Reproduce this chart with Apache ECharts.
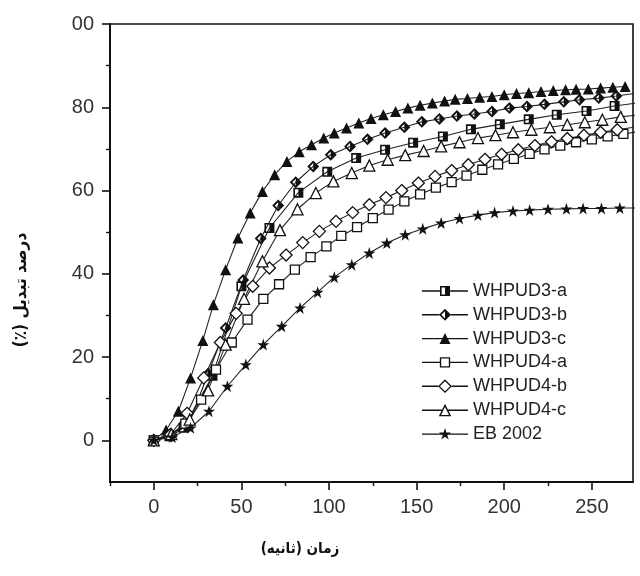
<!DOCTYPE html>
<html>
<head>
<meta charset="utf-8">
<script src="https://cdn.jsdelivr.net/npm/echarts@6/dist/echarts.min.js"></script>
<style>html,body{margin:0;padding:0;background:#fff}#c{width:640px;height:576px}</style>
</head>
<body>
<div id="c"></div>
<script>
// ---- data ----
const seriesNames = ['WHPUD3-a','WHPUD3-b','WHPUD3-c','WHPUD4-a','WHPUD4-b','WHPUD4-c','EB 2002'];

const t3a = [0,17,33.5,50,66,82.5,99,115.5,132,148,165,181,197.5,214,230,247,263,279];
const v3a = [0,3,15.5,37,51,59.5,64.5,67.8,69.8,71.5,73,74.7,75.9,77.1,78.2,79.1,80.3,81.2];

const t3b = [0,10,20,31,41,51,61,71,81,91,101,112,122,132,143,153,163,173,183,193,203,213,223,234,243,254,264,274];
const v3b = [0,1,4,16,27,38.5,48.5,56.4,62,65.8,68.6,70.6,72.3,73.8,75.2,76.5,77.2,77.9,78.4,79,79.8,80.2,80.7,81.3,81.8,82.2,82.7,83.3];

const t3c = [0,7,14,21,28,34,41,48,55,62,69,76,83,90,97,103,110,117,124,131,138,145,152,159,166,172,179,186,193,200,207,214,221,228,235,241,248,255,262,269];
const v3c = [0,2.5,7,15,24,32.6,41,48.6,54.6,59.8,63.8,67,69.3,71,72.6,73.8,75,76.2,77.3,78.2,79,79.8,80.5,81,81.5,81.9,82.1,82.4,82.6,83,83.3,83.5,83.8,84,84.2,84.3,84.4,84.6,84.8,85];

const t4a = [0,9,18,27,35.5,44.5,53.5,62.5,71.5,80.5,89.5,98.5,107,116,125,134,143,152,161,170,178.5,187.5,196.5,205.5,214.5,223,232,241,250,259,268,277];
const v4a = [0,1,4,9.8,17,23.5,29,34,37.5,41,44,46.6,49.1,51.2,53.4,55.4,57.4,59.1,60.7,62,63.6,65,66.3,67.6,68.8,69.9,70.8,71.6,72.3,73,73.6,74.2];

const t4b = [0,9.5,19,28.5,38,47,56.5,66,75.5,85,94.5,104,113.5,123,132.5,141.5,151,160.5,170,179.5,189,198.5,208,217.5,227,236,245.5,255,264.5,274];
const v4b = [0,1.4,6.5,15,23.5,30.5,37,41.4,44.5,47.5,50.2,52.6,54.7,56.6,58.3,60,61.8,63.4,64.8,66.2,67.5,68.7,69.8,70.8,71.7,72.5,73.3,74,74.6,75.2];

const t4c = [0,10,20.5,31,41,51.5,62,72,82,92.5,102.5,113,123,133.5,143.5,154,164,174.5,185,195,205,215.5,226,236,246,256,266.5,277];
const v4c = [0,1.5,5,12,23,34,43,50.5,55.5,59.4,62.2,64.2,66,67.4,68.5,69.5,70.6,71.6,72.6,73.3,74,74.6,75.2,75.8,76.4,77,77.7,78.2];

const tEB = [0,10.5,21,31.5,42,52.5,62.5,73,83.5,93.5,103,113,123,133,143.5,153.5,164,174.5,185,194.5,205,214.5,225,235.5,245,255.5,266,275.5];
const vEB = [0,0.8,3,7,13,18.2,23,27.4,31.8,35.6,39.2,42.2,45,47.4,49.4,50.8,52.2,53.3,54.1,54.7,55.1,55.3,55.5,55.6,55.7,55.7,55.8,55.8];

const xTickValues = [0,50,100,150,200,250];
const xTickLabels = ['0','50','100','150','200','250'];
const xMinorTicks = [-25,25,75,125,175,225];
const yTickValues = [0,20,40,60,80,100];
const yTickLabels = ['0','20','40','60','80','00'];
const yMinorTicks = [10,30,50,70,90];

const xTitle = '\u202Bزمان (ثانیه)\u202C';
const yTitle = '\u202Bدرصد تبدیل (٪)\u202C';

// ---- styling ----
const halfSquare = 'path://M0,0 L10,0 L10,10 L0,10 Z M1.6,1.6 L1.6,8.4 L5,8.4 L5,1.6 Z';
const halfDiamond = 'path://M5,0 L10,5 L5,10 L0,5 Z M5,2.2 L2.2,5 L5,7.8 Z';
const star = 'path://M5,0 L6.18,3.62 L10,3.62 L6.91,5.86 L8.09,9.51 L5,7.24 L1.91,9.51 L3.09,5.86 L0,3.62 L3.82,3.62 Z';

// legend icons: line + marker drawn as one path (46 x 15 box)
function seg(a, b) { return 'M' + a + ',6.8 L' + b + ',6.8 L' + b + ',8.2 L' + a + ',8.2 Z '; }
const legendIcons = [
  'path://' + seg(0, 18) + seg(28, 46) + 'M18,2.5 L28,2.5 L28,12.5 L18,12.5 Z M19.6,4.1 L19.6,10.9 L23,10.9 L23,4.1 Z',
  'path://' + seg(0, 17.2) + seg(28.8, 46) + 'M23,1.5 L29,7.5 L23,13.5 L17,7.5 Z M23,3.9 L19.4,7.5 L23,11.1 Z',
  'path://' + seg(0, 46) + 'M23,2 L28.5,13 L17.5,13 Z',
  'path://' + seg(0, 17.9) + seg(28.1, 46) + 'M17.85,2.35 L28.15,2.35 L28.15,12.65 L17.85,12.65 Z M19.2,3.7 L19.2,11.3 L26.8,11.3 L26.8,3.7 Z',
  'path://' + seg(0, 16.2) + seg(29.8, 46) + 'M23,0.6 L29.9,7.5 L23,14.4 L16.1,7.5 Z M23,2.44 L17.94,7.5 L23,12.56 L28.06,7.5 Z',
  'path://' + seg(0, 20.1) + seg(25.9, 46) + 'M23,1 L29.2,13.6 L16.8,13.6 Z M23,4.3 L19,12.3 L27,12.3 Z',
  'path://' + seg(0, 46) + 'M23,1.5 L24.42,5.84 L29,5.84 L25.29,8.53 L26.71,12.91 L23,10.19 L19.29,12.91 L20.71,8.53 L17,5.84 L21.58,5.84 Z'
];

const sets = [
  {t:t3a, v:v3a, symbol:halfSquare, size:10, fill:'#111', bw:0},
  {t:t3b, v:v3b, symbol:halfDiamond, size:12, fill:'#111', bw:0},
  {t:t3c, v:v3c, symbol:'triangle', size:11, fill:'#111', bw:0},
  {t:t4a, v:v4a, symbol:'rect', size:9, fill:'#fff', bw:1.3},
  {t:t4b, v:v4b, symbol:'diamond', size:12, fill:'#fff', bw:1.3},
  {t:t4c, v:v4c, symbol:'triangle', size:11, fill:'#fff', bw:1.3},
  {t:tEB, v:vEB, symbol:star, size:12, fill:'#111', bw:0}
];

const series = sets.map((s, i) => ({
  name: seriesNames[i],
  type: 'line',
  xAxisIndex: 0, yAxisIndex: 0,
  data: s.t.map((t, k) => [t, s.v[k]]),
  symbol: s.symbol,
  symbolSize: s.size,
  showAllSymbol: true,
  clip: true,
  lineStyle: {color: '#222', width: 1.1},
  itemStyle: {color: s.fill, borderColor: '#111', borderWidth: s.bw},
  emphasis: {disabled: true},
  animation: false
}));

const chart = echarts.init(document.getElementById('c'), null, {renderer: 'canvas'});
const labelFont = {fontFamily: 'Liberation Sans, Arial, sans-serif', fontSize: 20, color: '#333'};
chart.setOption({
  backgroundColor: '#fff',
  animation: false,
  grid: {left: 110, right: 7, top: 24, bottom: 94, show: true, borderColor: '#111', borderWidth: 1.6, backgroundColor: 'transparent'},
  xAxis: [
    {type: 'value', min: -25, max: 273.5, interval: 25, position: 'bottom',
     axisLine: {show: true, onZero: false, lineStyle: {color: '#111', width: 2}},
     axisTick: {show: true, inside: false, length: 8, customValues: xTickValues, lineStyle: {color: '#111', width: 1.6}},
     axisLabel: Object.assign({show: true, margin: 15, customValues: xTickValues,
       formatter: v => xTickLabels[xTickValues.indexOf(v)]}, labelFont),
     splitLine: {show: false}},
    {type: 'value', min: -25, max: 273.5, interval: 25, position: 'bottom', gridIndex: 0,
     axisLine: {show: false, onZero: false},
     axisTick: {show: true, inside: false, length: 4, customValues: xMinorTicks, lineStyle: {color: '#111', width: 1.4}},
     axisLabel: {show: false}, splitLine: {show: false}}
  ],
  yAxis: [
    {type: 'value', min: -10, max: 100, interval: 10, position: 'left',
     axisLine: {show: true, onZero: false, lineStyle: {color: '#111', width: 2}},
     axisTick: {show: true, inside: false, length: 8, customValues: yTickValues, lineStyle: {color: '#111', width: 1.6}},
     axisLabel: Object.assign({show: true, margin: 16, customValues: yTickValues,
       formatter: v => yTickLabels[yTickValues.indexOf(v)]}, labelFont),
     splitLine: {show: false}},
    {type: 'value', min: -10, max: 100, interval: 10, position: 'left', gridIndex: 0,
     axisLine: {show: false, onZero: false},
     axisTick: {show: true, inside: false, length: 4, customValues: yMinorTicks, lineStyle: {color: '#111', width: 1.4}},
     axisLabel: {show: false}, splitLine: {show: false}}
  ],
  legend: {
    show: true, orient: 'vertical', left: 417, top: 277,
    itemWidth: 46, itemHeight: 15, itemGap: 5.8,
    itemStyle: {color: '#111', borderWidth: 0},
    textStyle: {fontFamily: 'Liberation Sans, Arial, sans-serif', fontSize: 18, color: '#222', lineHeight: 18},
    data: seriesNames.map((n, i) => ({name: n, icon: legendIcons[i], itemStyle: {color: '#111', borderWidth: 0}})),
    selectedMode: false
  },
  graphic: [
    {type: 'text', x: 300, y: 549, style: {text: xTitle, textAlign: 'center', textVerticalAlign: 'middle',
      font: 'bold 15px "DejaVu Sans Condensed", "DejaVu Sans", sans-serif', fill: '#111'}},
    {type: 'text', x: 22, y: 290, rotation: Math.PI / 2, style: {text: yTitle, textAlign: 'center', textVerticalAlign: 'middle',
      font: 'bold 17px "DejaVu Sans Condensed", "DejaVu Sans", sans-serif', fill: '#111'}}
  ],
  series: series
});
</script>
</body>
</html>
